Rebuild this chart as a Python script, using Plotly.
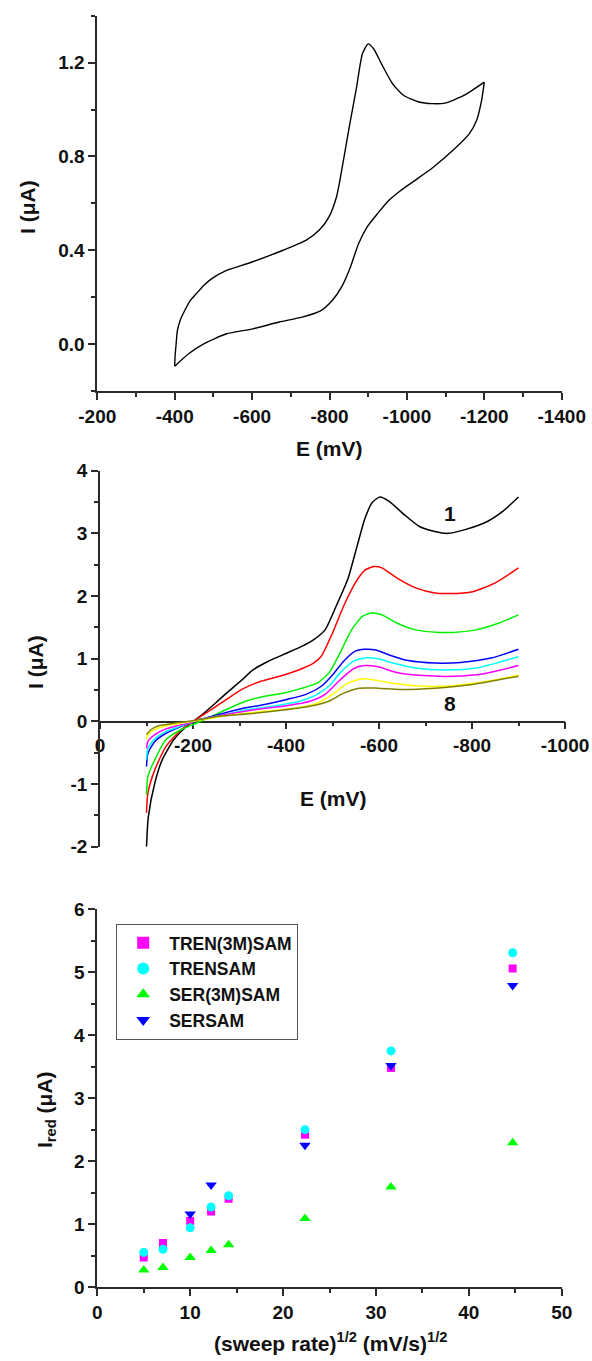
import plotly.graph_objects as go

# ---------------- Panel A: single cyclic voltammogram ----------------
cv_fwd_E = [-400, -401, -403, -407, -415, -426, -440, -456, -475, -495, -534, -600, -680, -739, -773, -798,
            -818, -836, -851, -870, -885, -900, -914, -934, -963, -992, -1031, -1065, -1098, -1147, -1200]
cv_fwd_I = [-0.094, -0.05, -0.013, 0.058, 0.105, 0.143, 0.185, 0.215, 0.25, 0.278, 0.314, 0.35, 0.40, 0.442,
            0.485, 0.54, 0.627, 0.783, 0.925, 1.096, 1.238, 1.28, 1.259, 1.196, 1.11, 1.06, 1.032, 1.025,
            1.027, 1.06, 1.117]
cv_rev_E = [-1200, -1193, -1180, -1161, -1119, -1068, -1021, -984, -953, -924, -897, -875, -854, -831,
            -807, -778, -729, -670, -602, -534, -475, -436, -400]
cv_rev_I = [1.117, 1.039, 0.953, 0.896, 0.826, 0.754, 0.698, 0.655, 0.612, 0.556, 0.499, 0.428, 0.328, 0.243,
            0.186, 0.143, 0.115, 0.094, 0.065, 0.044, 0.001, -0.041, -0.094]
top_xticks = [-200, -400, -600, -800, -1000, -1200, -1400]
top_xlabels = ["-200", "-400", "-600", "-800", "-1000", "-1200", "-1400"]
top_yticks = [0.0, 0.4, 0.8, 1.2]
top_ylabels = ["0.0", "0.4", "0.8", "1.2"]

# ---------------- Panel B: linear sweeps, curves 1..8 ----------------
c1_E = [-100, -104, -118, -134, -159, -191, -215, -248, -272, -305, -329, -362, -402, -435, -459, -484,
        -508, -533, -553, -569, -585, -602, -622, -654, -687, -720, -748, -785, -833, -866, -900]
c1_I = [-2.0, -1.52, -0.98, -0.61, -0.29, -0.05, 0.08, 0.29, 0.45, 0.66, 0.82, 0.96, 1.09, 1.20, 1.30, 1.46,
        1.84, 2.27, 2.80, 3.22, 3.49, 3.58, 3.51, 3.30, 3.11, 3.03, 3.0, 3.06, 3.19, 3.35, 3.58]
c2_E = [-100, -103, -118, -142, -175, -207, -240, -272, -305, -346, -386, -427, -459, -476, -500, -524,
        -549, -569, -589, -606, -638, -679, -720, -752, -801, -850, -900]
c2_I = [-1.46, -1.14, -0.77, -0.40, -0.13, 0.03, 0.19, 0.35, 0.51, 0.64, 0.72, 0.82, 0.93, 1.04, 1.41, 1.84,
        2.21, 2.41, 2.47, 2.45, 2.29, 2.13, 2.05, 2.04, 2.07, 2.21, 2.45]
c3_E = [-100, -103, -118, -142, -175, -207, -240, -272, -313, -354, -394, -435, -467, -492, -516, -541,
        -565, -585, -606, -638, -679, -728, -760, -809, -858, -900]
c3_I = [-1.17, -0.88, -0.61, -0.29, -0.13, -0.03, 0.08, 0.19, 0.32, 0.40, 0.45, 0.53, 0.61, 0.77, 1.09, 1.46,
        1.68, 1.73, 1.70, 1.57, 1.46, 1.42, 1.42, 1.46, 1.57, 1.70]
c4_E = [-100, -103, -118, -142, -175, -215, -256, -297, -354, -402, -443, -476, -500, -524, -549, -569,
        -593, -622, -663, -720, -776, -841, -900]
c4_I = [-0.72, -0.51, -0.32, -0.19, -0.08, 0.03, 0.11, 0.19, 0.27, 0.35, 0.43, 0.56, 0.74, 0.96, 1.12, 1.15,
        1.14, 1.06, 0.97, 0.93, 0.94, 1.01, 1.15]
c5_E = [-100, -103, -118, -142, -175, -215, -256, -313, -370, -418, -459, -492, -516, -545, -569, -598,
        -630, -679, -744, -809, -900]
c5_I = [-0.61, -0.43, -0.28, -0.16, -0.07, 0.03, 0.09, 0.18, 0.24, 0.30, 0.40, 0.56, 0.77, 0.96, 1.01, 1.00,
        0.93, 0.85, 0.82, 0.85, 1.03]
c6_E = [-100, -103, -118, -142, -183, -224, -272, -337, -402, -451, -484, -516, -545, -569, -598, -638,
        -695, -760, -825, -900]
c6_I = [-0.43, -0.32, -0.21, -0.12, -0.04, 0.04, 0.11, 0.19, 0.25, 0.32, 0.43, 0.66, 0.84, 0.89, 0.87, 0.78,
        0.73, 0.72, 0.76, 0.89]
c7_E = [-100, -103, -118, -142, -183, -232, -289, -354, -418, -467, -500, -533, -565, -598, -638, -695,
        -760, -833, -900]
c7_I = [-0.29, -0.21, -0.13, -0.07, -0.02, 0.04, 0.11, 0.16, 0.21, 0.29, 0.43, 0.61, 0.68, 0.65, 0.60, 0.56,
        0.57, 0.64, 0.74]
c8_E = [-100, -110, -126, -159, -199, -256, -321, -394, -451, -492, -524, -557, -598, -646, -720, -801, -900]
c8_I = [-0.21, -0.13, -0.07, -0.03, 0.01, 0.08, 0.12, 0.18, 0.24, 0.32, 0.45, 0.53, 0.53, 0.51, 0.53, 0.59, 0.72]
sweep_colors = ["#000000", "#ff0000", "#00f000", "#0000ff", "#00ffff", "#ff00ff", "#ffff00", "#808000"]
mid_xticks = [0, -200, -400, -600, -800, -1000]
mid_xlabels = ["0", "-200", "-400", "-600", "-800", "-1000"]
mid_yticks = [-2, -1, 0, 1, 2, 3, 4]
mid_ylabels = ["-2", "-1", "0", "1", "2", "3", "4"]

# ---------------- Panel C: peak current vs sqrt(sweep rate) ----------------
sqrt_rate = [5.0, 7.07, 10.0, 12.25, 14.14, 22.36, 31.62, 44.72]
tren3m = [0.47, 0.70, 1.05, 1.20, 1.40, 2.42, 3.48, 5.06]
trensam = [0.55, 0.60, 0.94, 1.27, 1.45, 2.50, 3.75, 5.31]
ser3m = [0.27, 0.31, 0.47, 0.58, 0.67, 1.09, 1.59, 2.29]
sersam_x = [10.0, 12.25, 22.36, 31.62, 44.72]
sersam = [1.16, 1.62, 2.25, 3.52, 4.79]
bot_xticks = [0, 10, 20, 30, 40, 50]
bot_xlabels = ["0", "10", "20", "30", "40", "50"]
bot_yticks = [0, 1, 2, 3, 4, 5, 6]
bot_ylabels = ["0", "1", "2", "3", "4", "5", "6"]

W, H = 592, 1361
FONT = "Liberation Sans"
AX = "#2a2a2a"


def px_x(p):
    return p / W


def px_y(p):
    return 1 - p / H


fig = go.Figure()

for e, i in [(cv_fwd_E, cv_fwd_I), (cv_rev_E, cv_rev_I)]:
    fig.add_trace(go.Scatter(x=e, y=i, mode="lines", line=dict(color="black", width=1.4, shape="spline",
                                                               smoothing=0.6),
                             xaxis="x", yaxis="y", showlegend=False))

curves = [(c1_E, c1_I), (c2_E, c2_I), (c3_E, c3_I), (c4_E, c4_I),
          (c5_E, c5_I), (c6_E, c6_I), (c7_E, c7_I), (c8_E, c8_I)]
for (e, i), col in zip(curves, sweep_colors):
    fig.add_trace(go.Scatter(x=e, y=i, mode="lines", line=dict(color=col, width=1.5, shape="spline", smoothing=0.6),
                             xaxis="x2", yaxis="y2", showlegend=False))

fig.add_trace(go.Scatter(x=sqrt_rate, y=tren3m, mode="markers", name="TREN(3M)SAM",
                         marker=dict(symbol="square", size=8, color="#ff00ff"), xaxis="x3", yaxis="y3"))
fig.add_trace(go.Scatter(x=sqrt_rate, y=trensam, mode="markers", name="TRENSAM",
                         marker=dict(symbol="circle", size=9, color="#00ffff"), xaxis="x3", yaxis="y3"))
fig.add_trace(go.Scatter(x=sqrt_rate, y=ser3m, mode="markers", name="SER(3M)SAM",
                         marker=dict(symbol="triangle-up", size=10, color="#00ff00"), xaxis="x3", yaxis="y3"))
fig.add_trace(go.Scatter(x=sersam_x, y=sersam, mode="markers", name="SERSAM",
                         marker=dict(symbol="triangle-down", size=10, color="#0000ff"), xaxis="x3", yaxis="y3"))

tickfont = dict(family=FONT, size=19, color="#111", weight="bold")


def axis(rng, tv, tt, dom, minor_dt, **kw):
    d = dict(range=rng, domain=dom, tickmode="array", tickvals=tv, ticktext=tt, automargin=False,
             showline=True, linecolor=AX, linewidth=1.8, ticks="outside", ticklen=7, tickwidth=1.5,
             tickcolor=AX, tickfont=tickfont, showgrid=False, zeroline=False,
             minor=dict(ticks="outside", ticklen=4, tickwidth=1.5, tickcolor=AX, dtick=minor_dt, tick0=0,
                        showgrid=False))
    d.update(kw)
    return d


xdomA = [px_x(97.3), px_x(561.7)]
xdomB = [px_x(100), px_x(565)]
fig.update_layout(
    template="none",
    width=W, height=H, autosize=False,
    margin=dict(l=0, r=0, t=0, b=0, pad=0),
    paper_bgcolor="white", plot_bgcolor="white",
    xaxis=axis([-200, -1400], top_xticks, top_xlabels, xdomA, 100, anchor="y"),
    yaxis=axis([-0.2, 1.4], top_yticks, top_ylabels, [px_y(391), px_y(15.7)], 0.2, anchor="x"),
    xaxis2=axis([0, -1000], mid_xticks, mid_xlabels, xdomB, 100, anchor="free",
                position=px_y(721.5), layer="below traces"),
    yaxis2=axis([-2, 4], mid_yticks, mid_ylabels, [px_y(846.7), px_y(470.7)], 0.5, anchor="x2"),
    xaxis3=axis([0, 50], bot_xticks, bot_xlabels, xdomA, 5, anchor="y3"),
    yaxis3=axis([0, 6], bot_yticks, bot_ylabels, [px_y(1287), px_y(909.3)], 0.5, anchor="x3"),
    legend=dict(x=px_x(116), y=px_y(923.7), xanchor="left", yanchor="top",
                bordercolor="#555", borderwidth=1.2, bgcolor="white",
                font=dict(family=FONT, size=17.5, color="#111", weight="bold"),
                itemsizing="constant", itemwidth=42, tracegroupgap=0),
)

title_font = dict(family=FONT, size=21, color="#111", weight="bold")
ann = [
    dict(text="E (mV)", x=px_x(329.5), y=px_y(448), xanchor="center", yanchor="middle"),
    dict(text="I (μA)", x=px_x(27), y=px_y(207), xanchor="center", yanchor="middle", textangle=-90),
    dict(text="E (mV)", x=px_x(333), y=px_y(798), xanchor="center", yanchor="middle"),
    dict(text="I (μA)", x=px_x(36), y=px_y(662), xanchor="center", yanchor="middle", textangle=-90),
    dict(text="(sweep rate)<sup>1/2</sup> (mV/s)<sup>1/2</sup>", x=px_x(330), y=px_y(1342),
         xanchor="center", yanchor="middle"),
    dict(text="I<sub>red</sub> (μA)", x=px_x(46), y=px_y(1110), xanchor="center", yanchor="middle",
         textangle=-90),
]
for a in ann:
    a.update(xref="paper", yref="paper", showarrow=False, font=title_font)
    fig.add_annotation(**a)

fig.add_annotation(text="1", x=-752, y=3.32, xref="x2", yref="y2", showarrow=False, font=title_font)
fig.add_annotation(text="8", x=-752, y=0.29, xref="x2", yref="y2", showarrow=False, font=title_font)

fig.write_html("out.html", config={"displayModeBar": False},
               post_script="document.body.style.margin='0px';")
